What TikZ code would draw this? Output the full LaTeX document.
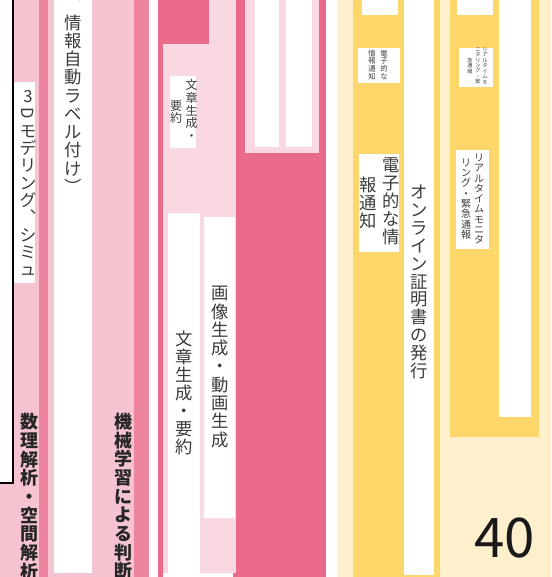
\documentclass[tikz,border=0pt]{standalone}
\usepackage{fontspec}
\setmainfont{Noto Sans CJK JP}
\definecolor{pinkpale}{RGB}{246,196,208}
\definecolor{pinkmid}{RGB}{238,133,160}
\definecolor{pinkdeep}{RGB}{233,106,139}
\definecolor{pinklight}{RGB}{250,216,225}
\definecolor{yellowmain}{RGB}{253,215,106}
\definecolor{yellowcream}{RGB}{254,240,205}
\definecolor{txtgray}{RGB}{60,60,60}
\tikzset{
  tate/.style 2 args={align=center, inner sep=0pt, text=txtgray, font=\fontsize{#1}{#2}\selectfont},
  tatebold/.style={align=center, inner sep=0pt, anchor=north, text=black!85, font=\bfseries\fontsize{13.5}{14}\selectfont},
}
\begin{document}
\begin{tikzpicture}[x=0.75pt,y=0.75pt,yscale=-1,xscale=1]
\useasboundingbox (0,0) rectangle (551,577);
\fill[white] (0,0) rectangle (551,577);

%Shape: Rectangle -- left pink bands
\fill[pinkpale] (0,0) rectangle (39,577);
\fill[pinkmid] (39,0) rectangle (48,577);
\fill[pinkpale] (48,0) rectangle (134,577);
\fill[white] (54,0) rectangle (92,573);
\fill[pinkmid] (134,0) rectangle (149,577);
%Shape: Rectangle -- framed box
\fill[white] (0,0) rectangle (13,483);
\draw[line width=1.5pt] (13,-2) -- (13,483) -- (-2,483);
\fill[white] (14,82) rectangle (35,283);

%Shape: Rectangle -- middle pink block
\fill[pinkdeep] (158,0) rectangle (326,577);
\fill[pinklight] (163,44) rectangle (236,573);
\fill[pinklight] (209,0) rectangle (236,44);
\fill[white] (163,573) rectangle (233,577);
\fill[pinklight] (245,0) rectangle (319,153);
\fill[white] (255,0) rectangle (279,147);
\fill[white] (286,0) rectangle (312,147);
\fill[white] (170,76) rectangle (196,148);
\fill[white] (168,213) rectangle (200,573);
\fill[white] (204,217) rectangle (235,518);

%Shape: Rectangle -- yellow block
\fill[yellowcream] (337,0) rectangle (551,577);
\fill[yellowmain] (353,0) rectangle (440,577);
\fill[white] (404,0) rectangle (434,575);
\fill[yellowmain] (450,0) rectangle (539,437);
\fill[white] (499,0) rectangle (531,417);
\fill[white] (362,0) rectangle (398,15);
\fill[white] (457,0) rectangle (493,15);
\fill[white] (358,48) rectangle (400,83);
\fill[white] (459,48) rectangle (493,87);
\fill[white] (359,154) rectangle (399,252);
\fill[white] (456,150) rectangle (489,249);

% Text Node
\node[tate={13}{13.7}] (autolabel) at (73,95) {︑\\情\\報\\自\\動\\ラ\\ベ\\ル\\付\\け\\︶};
% Text Node
\node[tate={12.5}{13}] (modeling) at (28,183) {3\\\rotatebox[origin=c]{-90}{D}\\モ\\デ\\リ\\ン\\グ\\︑\\シ\\ミ\\ュ};
% Text Node
\node[tatebold] (mathspace) at (29,413) {数\\理\\解\\析\\・\\空\\間\\解\\析};
% Text Node
\node[tatebold] (mljudge) at (123,413) {機\\械\\学\\習\\に\\よ\\る\\判\\断};
% Text Node
\node[tate={9}{9.4}] (summaryA) at (191.5,110) {文\\章\\生\\成\\・};
\node[tate={9}{9.4}] (summaryB) at (176,112) {要\\約};
% Text Node
\node[tate={13}{13.5}] (textgen) at (184.5,393) {文\\章\\生\\成\\・\\要\\約};
% Text Node
\node[tate={13}{13.7}] (imagegen) at (220,367) {画\\像\\生\\成\\・\\動\\画\\生\\成};
% Text Node
\node[tate={5.5}{5.8}] (noticesmA) at (384,65) {電\\子\\的\\な};
\node[tate={5.5}{5.8}] (noticesmB) at (372,65) {情\\報\\通\\知};
% Text Node
\node[tate={13}{13.5}] (noticeA) at (391,201) {電\\子\\的\\な\\情};
\node[tate={13}{13.5}] (noticeB) at (368,203) {報\\通\\知};
% Text Node
\node[tate={13}{13.4}] (certificate) at (419,282) {オ\\ン\\ラ\\イ\\ン\\証\\明\\書\\の\\発\\行};
% Text Node
\node[tate={3.9}{4.1}] (monitorsmA) at (485,66) {リ\\ア\\ル\\タ\\イ\\ム\\モ};
\node[tate={3.9}{4.1}] (monitorsmB) at (478,66) {ニ\\タ\\リ\\ン\\グ\\・\\緊};
\node[tate={3.9}{4.1}] (monitorsmC) at (470,66) {急\\通\\報};
% Text Node
\node[tate={7.5}{7.7}] (monitorA) at (479,199) {リ\\ア\\ル\\タ\\イ\\ム\\モ\\ニ\\タ};
\node[tate={7.5}{7.7}] (monitorB) at (466,199) {リ\\ン\\グ\\・\\緊\\急\\通\\報};
% Text Node
\node[inner sep=0pt, anchor=base east, text=black!90, font=\fontsize{41}{41}\selectfont] (pagenum) at (535,557) {40};

\end{tikzpicture}
\end{document}
